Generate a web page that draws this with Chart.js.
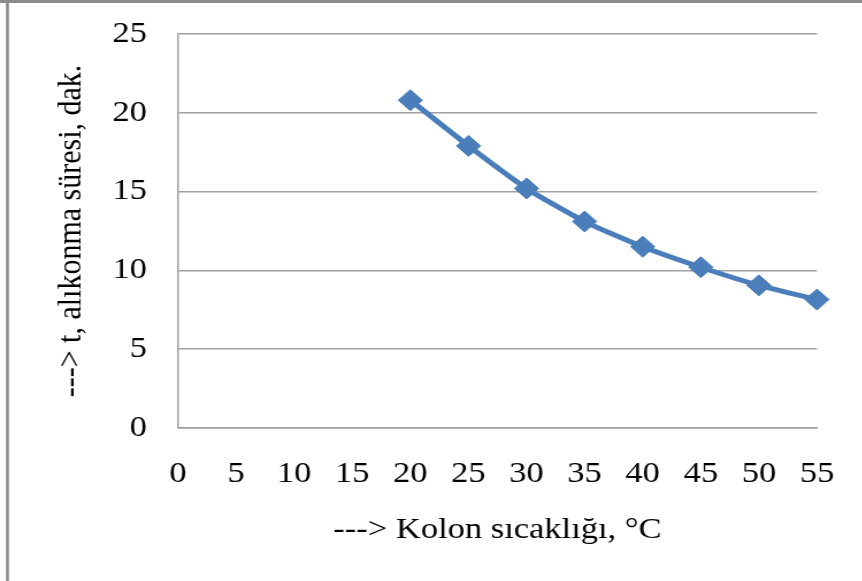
<!DOCTYPE html>
<html>
<head>
<meta charset="utf-8">
<script src="https://cdn.jsdelivr.net/npm/chart.js@4"></script>
<style>
html,body{margin:0;padding:0;background:#fff;overflow:hidden;}
#wrap{position:relative;width:862px;height:581px;overflow:hidden;}
#c{display:block;transform-origin:0 0;transform:scaleX(1.15);}
</style>
</head>
<body>
<div id="wrap"><canvas id="c" width="750" height="581"></canvas></div>
<script>
const temperatures = [20, 25, 30, 35, 40, 45, 50, 55];
const retentionTimes = [20.8, 17.9, 15.2, 13.1, 11.5, 10.2, 9.05, 8.15];
const xTitle = '---> Kolon sıcaklığı, °C';
const yTitle = '---> t, alıkonma süresi, dak.';
const xRange = [0, 55, 5];
const yRange = [0, 25, 5];

const FONT = "'Liberation Serif', 'Times New Roman', serif";
const FS = 30;

const frame = {
  id: 'frame',
  beforeDraw(chart) {
    const ctx = chart.ctx;
    ctx.save();
    ctx.fillStyle = '#fff';
    ctx.fillRect(0, 0, chart.width, chart.height);
    ctx.fillStyle = '#8c8c8c';
    ctx.fillRect(0, 0, chart.width, 3);
    ctx.fillRect(5.2, 0, 2.6, chart.height);
    ctx.restore();
  }
};

new Chart(document.getElementById('c'), {
  type: 'line',
  data: {
    datasets: [{
      data: temperatures.map((t, i) => ({x: t, y: retentionTimes[i]})),
      borderColor: '#4a7ebb',
      backgroundColor: '#4a7ebb',
      borderWidth: 5,
      tension: 0.2,
      pointStyle: 'rectRot',
      pointRadius: 10.5,
      pointBorderWidth: 1,
      pointBackgroundColor: '#4a7ebb',
      pointBorderColor: '#4a7ebb',
      clip: false
    }]
  },
  options: {
    responsive: false,
    animation: false,
    devicePixelRatio: 1,
    layout: {padding: {left: 9, top: 34, right: 39.6, bottom: 0}},
    plugins: {legend: {display: false}, tooltip: {enabled: false}},
    scales: {
      x: {
        type: 'linear',
        min: xRange[0], max: xRange[1],
        afterFit(s) { s.height = 153; s.paddingLeft = 0; s.paddingRight = 0; },
        grid: {display: false, drawTicks: false},
        border: {display: true, color: '#a0a0a0', width: 1.5},
        ticks: {stepSize: xRange[2], color: '#000', padding: 28, maxRotation: 0,
                font: {family: FONT, size: FS}},
        title: {display: true, text: xTitle, color: '#000',
                font: {family: FONT, size: FS}, padding: {top: 0, bottom: 33}}
      },
      y: {
        min: yRange[0], max: yRange[1],
        afterFit(s) { s.width = 145.8; s.paddingTop = 0; s.paddingBottom = 0; },
        grid: {color: '#a0a0a0', lineWidth: 1.5, drawTicks: false},
        border: {display: true, color: '#a0a0a0', width: 1.5},
        ticks: {stepSize: yRange[2], color: '#000', padding: 27,
                font: {family: FONT, size: FS}},
        title: {display: true, text: yTitle, color: '#000',
                font: {family: FONT, size: FS}, padding: {top: 35.6, bottom: 0}}
      }
    }
  },
  plugins: [frame]
});
</script>
</body>
</html>
